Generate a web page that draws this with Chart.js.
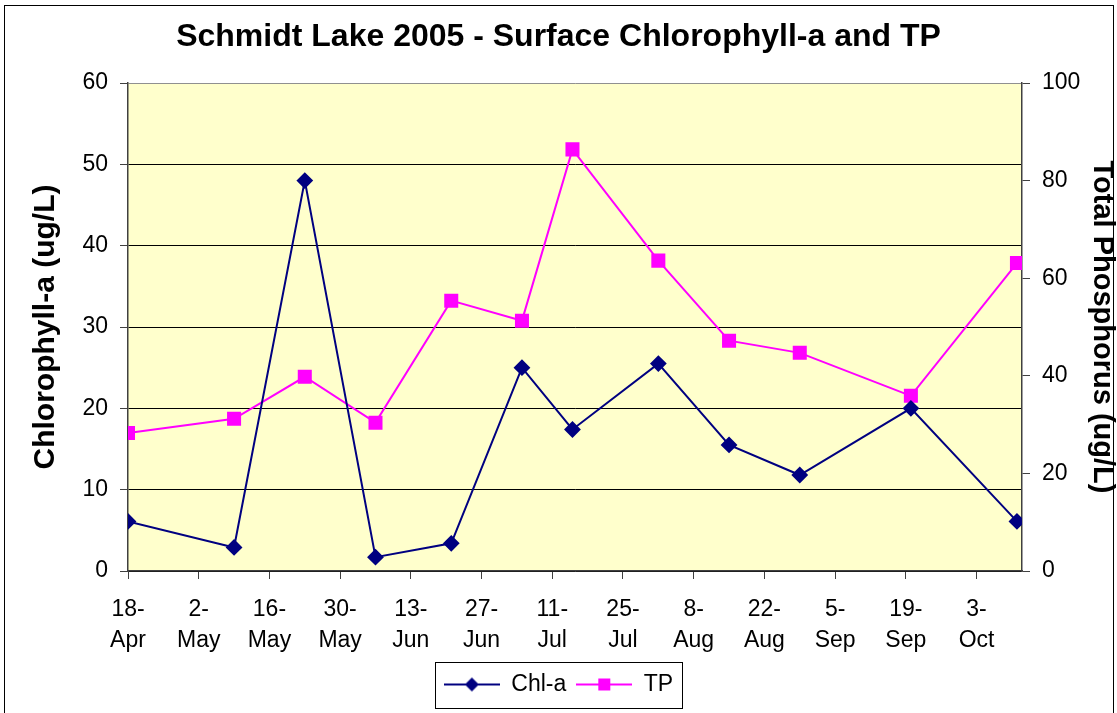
<!DOCTYPE html>
<html>
<head>
<meta charset="utf-8">
<script src="https://cdn.jsdelivr.net/npm/chart.js@4.4.0/dist/chart.umd.min.js"></script>
<style>
  html, body { margin: 0; padding: 0; background: #fff; }
  #frame { position: absolute; left: 4px; top: 5px; width: 1108px; height: 720px; border: 1px solid #000; }
  #myChart { position: absolute; left: 0; top: 0; }
</style>
</head>
<body>
<div id="frame"></div>
<canvas id="myChart" width="1117" height="713"></canvas>
<script>
// sample dates (2005) and values
const sampleDates = ['18-Apr', '9-May', '23-May', '6-Jun', '21-Jun', '5-Jul', '15-Jul', '1-Aug', '15-Aug', '29-Aug', '20-Sep', '11-Oct'];
const chlValues = [6.1, 2.9, 48.0, 1.7, 3.4, 25.0, 17.4, 25.5, 15.5, 11.8, 20.0, 6.1];
const tpValues = [28.3, 31.2, 39.8, 30.4, 55.4, 51.3, 86.4, 63.6, 47.2, 44.7, 35.9, 63.1];

const tickLabels = ['18-Apr', '2-May', '16-May', '30-May', '13-Jun', '27-Jun', '11-Jul', '25-Jul', '8-Aug', '22-Aug', '5-Sep', '19-Sep', '3-Oct'];
const axisStart = '18-Apr';
const axisEnd = '12-Oct';

const monthNames = ['Jan', 'Feb', 'Mar', 'Apr', 'May', 'Jun', 'Jul', 'Aug', 'Sep', 'Oct', 'Nov', 'Dec'];

function dayOf(s) {
    const parts = s.split('-');
    const start = axisStart.split('-');
    const t = Date.UTC(2005, monthNames.indexOf(parts[1]), +parts[0]);
    const t0 = Date.UTC(2005, monthNames.indexOf(start[1]), +start[0]);
    return (t - t0) / 86400000;
}

const tickDays = tickLabels.map(dayOf);

function legendIcon(color, shape) {
    const c = document.createElement('canvas');
    c.width = 56;
    c.height = 18;
    const g = c.getContext('2d');
    g.strokeStyle = color;
    g.lineWidth = 2;
    g.beginPath();
    g.moveTo(0, 9);
    g.lineTo(56, 9);
    g.stroke();
    g.fillStyle = color;
    if (shape === 'diamond') {
        g.beginPath();
        g.moveTo(21, 9);
        g.lineTo(28, 2);
        g.lineTo(35, 9);
        g.lineTo(28, 16);
        g.closePath();
        g.fill();
    } else {
        g.fillRect(22, 3, 12, 12);
    }
    return c;
}

const icons = [legendIcon('#000080', 'diamond'), legendIcon('#FF00FF', 'square')];

const plotBackground = {
    id: 'plotBackground',
    beforeDraw(chart) {
        const a = chart.chartArea;
        const ctx = chart.ctx;
        ctx.save();
        ctx.fillStyle = '#FFFFCC';
        ctx.fillRect(a.left, a.top, a.right - a.left, a.bottom - a.top);
        ctx.restore();
    }
};

const legendFrame = {
    id: 'legendFrame',
    afterDraw(chart) {
        const boxes = chart.legend.legendHitBoxes;
        if (!boxes || !boxes.length) return;
        const left = Math.min(...boxes.map(b => b.left)) - 9;
        const right = Math.max(...boxes.map(b => b.left + b.width)) + 9;
        const cy = boxes[0].top + boxes[0].height / 2;
        const ctx = chart.ctx;
        ctx.save();
        ctx.strokeStyle = '#000';
        ctx.lineWidth = 1;
        ctx.strokeRect(Math.round(left) + 0.5, Math.round(cy - 23) + 0.5, Math.round(right - left), 46);
        ctx.restore();
    }
};

Chart.defaults.font.family = '"Liberation Sans", Arial, sans-serif';
Chart.defaults.color = '#000';

const ctx = document.getElementById('myChart').getContext('2d');

const myChart = new Chart(ctx, {
    type: 'line',
    data: {
        datasets: [{
            label: 'Chl-a',
            data: sampleDates.map((d, i) => ({ x: dayOf(d), y: chlValues[i] })),
            borderColor: '#000080',
            backgroundColor: '#000080',
            borderWidth: 2,
            pointStyle: 'rectRot',
            pointRadius: 7,
            pointHoverRadius: 7,
            tension: 0,
            yAxisID: 'y'
        }, {
            label: 'TP',
            data: sampleDates.map((d, i) => ({ x: dayOf(d), y: tpValues[i] })),
            borderColor: '#FF00FF',
            backgroundColor: '#FF00FF',
            borderWidth: 2,
            pointStyle: 'rect',
            pointRadius: 8.5,
            pointHoverRadius: 8.5,
            tension: 0,
            yAxisID: 'y1'
        }]
    },
    options: {
        responsive: false,
        animation: false,
        layout: { padding: { left: 0, right: 0, top: 0, bottom: 7 } },
        plugins: {
            title: {
                display: true,
                text: 'Schmidt Lake 2005 - Surface Chlorophyll-a and TP',
                font: { size: 32, weight: 'bold' },
                color: '#000',
                padding: { top: 17.8, bottom: 26.8 }
            },
            legend: {
                position: 'bottom',
                labels: {
                    usePointStyle: true,
                    pointStyleWidth: 56,
                    padding: 10,
                    font: { size: 23 },
                    color: '#000',
                    generateLabels(chart) {
                        const items = Chart.defaults.plugins.legend.labels.generateLabels(chart);
                        items.forEach((it, i) => { it.pointStyle = icons[i]; });
                        return items;
                    }
                }
            },
            tooltip: { enabled: false }
        },
        scales: {
            x: {
                type: 'linear',
                min: 0,
                max: dayOf(axisEnd),
                afterBuildTicks(scale) {
                    scale.ticks = tickDays.map(v => ({ value: v }));
                },
                afterFit(scale) { scale.height = 92; },
                ticks: {
                    autoSkip: false,
                    maxRotation: 0,
                    padding: 15,
                    font: { size: 23, lineHeight: 1.35 },
                    callback(value, index) {
                        const parts = tickLabels[index].split('-');
                        return [parts[0] + '-', parts[1]];
                    }
                },
                grid: { drawOnChartArea: false, tickLength: 8, tickColor: '#404040' },
                border: { color: '#404040', width: 1.5 }
            },
            y: {
                position: 'left',
                min: 0,
                max: 60,
                afterFit(scale) { scale.width = 128; },
                ticks: { stepSize: 10, padding: 12, font: { size: 23 } },
                grid: {
                    color: (c) => (c.tick && c.tick.value === 60 ? '#909090' : '#000'),
                    lineWidth: 1,
                    tickLength: 8,
                    tickColor: '#404040'
                },
                border: { color: '#404040', width: 1.5 },
                title: {
                    display: true,
                    text: 'Chlorophyll-a (ug/L)',
                    font: { size: 30, weight: 'bold', lineHeight: 1 },
                    padding: { top: 31, bottom: 0 }
                }
            },
            y1: {
                position: 'right',
                min: 0,
                max: 100,
                afterFit(scale) { scale.width = 95; },
                ticks: { stepSize: 20, padding: 12, font: { size: 23 } },
                grid: { drawOnChartArea: false, tickLength: 8, tickColor: '#404040' },
                border: { color: '#404040', width: 1.5 },
                title: {
                    display: true,
                    text: 'Total Phosphorus (ug/L)',
                    font: { size: 29, weight: 'bold', lineHeight: 1 },
                    padding: { top: 1, bottom: 0 }
                }
            }
        }
    },
    plugins: [plotBackground, legendFrame]
});
</script>
</body>
</html>
